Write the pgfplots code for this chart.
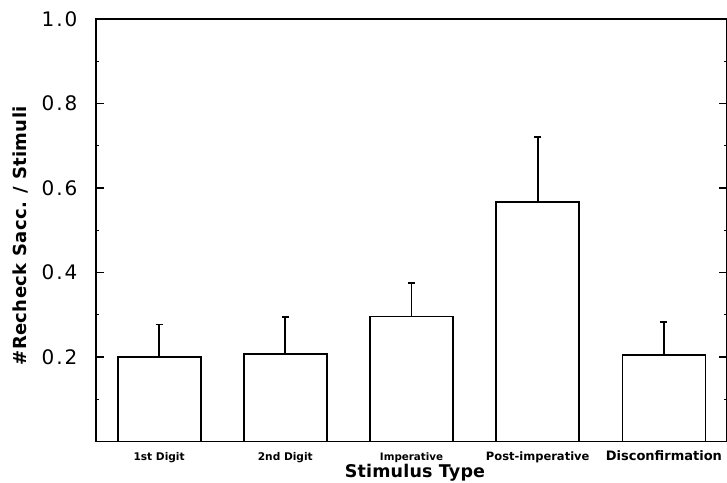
\documentclass[border=0pt]{standalone}
\usepackage{fontspec}
\setmainfont{DejaVu Sans}
\newfontfamily\tickf[LetterSpace=10]{DejaVu Sans}
\newfontfamily\labf[LetterSpace=2]{DejaVu Sans}
\newfontfamily\xlabf[LetterSpace=1]{DejaVu Sans}
\newfontfamily\xtf{DejaVu Sans}
\usepackage{pgfplots}
\pgfplotsset{compat=1.18}
\usetikzlibrary{calc}
\begin{document}
\begin{tikzpicture}
\begin{axis}[
  name=ax, at={(0,0)}, anchor=south west,
  scale only axis, width=631pt, height=422.5pt,
  xmin=-0.5, xmax=4.5, ymin=0, ymax=1,
  axis line style={line width=1.8pt},
  /pgf/number format/assume math mode=true,
  ytick={0.2,0.4,0.6,0.8,1.0},
  yticklabels={0.2,0.4,0.6,0.8,1.0},
  minor ytick={0.1,0.3,0.5,0.7,0.9},
  ytick pos=both,
  tick align=inside,
  major tick length=8pt, minor tick length=3pt,
  y tick style={line width=1.6pt, black},
  minor y tick style={line width=1.4pt},
  yticklabel style={font=\tickf\fontsize{20}{20}\selectfont, xshift=-15pt},
  xtick={0,1,2,3,4},
  x tick style={draw=none},
  xticklabels={{\xtf\bfseries\fontsize{10.6}{12}\selectfont 1st Digit},
               {\xtf\bfseries\fontsize{10.6}{12}\selectfont 2nd Digit},
               {\xtf\bfseries\fontsize{10.3}{12}\selectfont Imperative},
               {\xtf\bfseries\fontsize{11.5}{12}\selectfont Post-imperative},
               {\xtf\bfseries\fontsize{13}{14}\selectfont Disconfirmation}},
  xticklabel style={anchor=base, yshift=-18.5pt},
  ylabel={\labf\bfseries\fontsize{18}{19}\selectfont \#Recheck Sacc. / Stimuli},
  ylabel style={at={(axis description cs:-0.1204,0.487)}, anchor=center},
  xlabel={\xlabf\bfseries\fontsize{17.5}{18}\selectfont Stimulus Type},
  xlabel style={at={(axis description cs:0.5055,-0.0745)}, anchor=center},
]
\addplot[ybar, bar width=83pt, fill=white, draw=black, line width=1.8pt,
  error bars/.cd, y dir=plus, y explicit,
  error bar style={line width=1.8pt},
  error mark options={line width=1.8pt, mark size=3.5pt, rotate=90}]
coordinates {
  (0,0.200) +- (0,0.077)
  (1,0.207) +- (0,0.088)
  (2,0.296) +- (0,0.080)
  (3,0.567) +- (0,0.153)
  (4,0.205) +- (0,0.078)
};
\end{axis}
\pgfresetboundingbox
\path[use as bounding box] ($(ax.south west)+(-96pt,-40.5pt)$) rectangle ($(ax.north east)+(0pt,19pt)$);
\end{tikzpicture}
\end{document}
